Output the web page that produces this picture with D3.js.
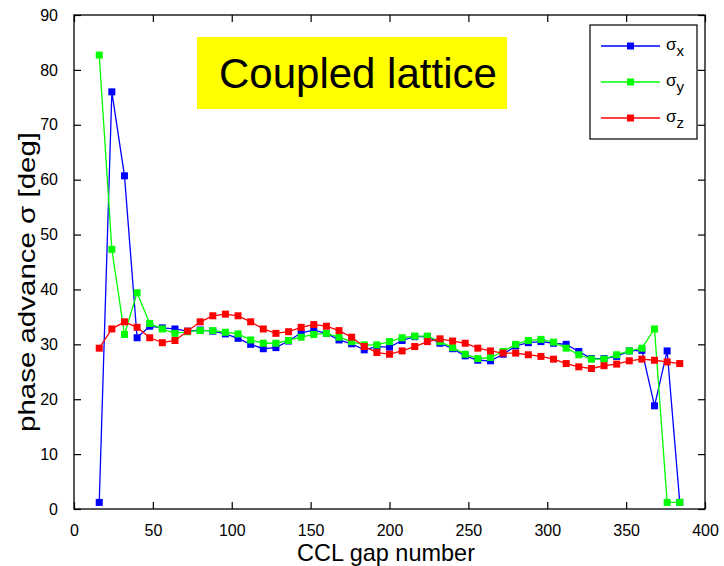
<!DOCTYPE html>
<html><head><meta charset="utf-8">
<script src="https://cdn.jsdelivr.net/npm/d3@7"></script>
<style>body{margin:0;background:#fff}svg{display:block}text{font-family:"Liberation Sans",Arial,sans-serif}</style>
</head><body>
<script>
const gaps = [16,24,32,40,48,56,64,72,80,88,96,104,112,120,128,136,144,152,160,168,176,184,192,200,208,216,224,232,240,248,256,264,272,280,288,296,304,312,320,328,336,344,352,360,368,376,384];
const sigmaX = [1.2,76.0,60.7,31.2,33.3,33.0,32.8,32.4,32.6,32.4,31.9,31.1,30.0,29.2,29.4,30.6,32.1,32.6,32.0,30.8,30.1,29.0,29.6,29.5,30.7,31.4,31.4,30.2,29.2,27.9,27.1,27.0,28.2,29.7,30.3,30.5,30.2,30.0,28.7,27.4,27.4,27.8,28.8,28.9,18.8,28.8,1.2];
const sigmaY = [82.7,47.3,31.8,39.4,33.8,32.8,32.0,32.3,32.5,32.5,32.2,31.9,30.8,30.2,30.2,30.7,31.3,31.8,32.0,31.3,30.5,29.9,29.9,30.5,31.2,31.5,31.5,30.5,29.4,28.2,27.4,27.6,28.7,30.0,30.7,30.9,30.4,29.3,28.1,27.3,27.3,28.1,28.8,29.3,32.8,1.2,1.2];
const sigmaZ = [29.3,32.8,34.1,33.1,31.2,30.3,30.7,32.4,34.1,35.2,35.5,35.2,34.1,32.8,32.0,32.3,33.1,33.6,33.3,32.5,31.3,29.6,28.5,28.2,28.8,29.6,30.5,31.0,30.6,30.2,29.3,28.8,28.4,28.4,28.1,27.8,27.3,26.5,25.9,25.6,26.1,26.4,27.0,27.3,27.1,26.8,26.5];
const xTicks = [0,50,100,150,200,250,300,350,400];
const yTicks = [0,10,20,30,40,50,60,70,80,90];
const seriesNames = ["x","y","z"];
const seriesColors = ["#0000ff","#00ff00","#ff0000"];

const W = 724, H = 566;
const m = {l:74, r:19, t:15, b:57};
const svg = d3.select("body").append("svg").attr("width",W).attr("height",H);
const x = d3.scaleLinear().domain([0,400]).range([m.l, W-m.r]);
const y = d3.scaleLinear().domain([0,90]).range([H-m.b, m.t]);
const tl = 7;

// axes (MATLAB style, inward ticks on all sides)
const gx = svg.append("g").attr("transform",`translate(0,${H-m.b})`)
  .call(d3.axisBottom(x).tickValues(xTicks).tickSize(-tl).tickPadding(tl+9).tickSizeOuter(0));
const gxt = svg.append("g").attr("transform",`translate(0,${m.t})`)
  .call(d3.axisTop(x).tickValues(xTicks).tickSize(-tl).tickFormat("").tickSizeOuter(0));
const gy = svg.append("g").attr("transform",`translate(${m.l},0)`)
  .call(d3.axisLeft(y).tickValues(yTicks).tickSize(-tl).tickPadding(tl+9).tickSizeOuter(0));
const gyr = svg.append("g").attr("transform",`translate(${W-m.r},0)`)
  .call(d3.axisRight(y).tickValues(yTicks).tickSize(-tl).tickFormat("").tickSizeOuter(0));
[gx,gxt,gy,gyr].forEach(g=>{g.select(".domain").remove();g.selectAll("line").attr("stroke","#000").attr("stroke-width",1.2);});
gx.selectAll("text").attr("font-size",16).attr("fill","#000").attr("font-family","Liberation Sans, Arial");
gy.selectAll("text").attr("font-size",16).attr("fill","#000").attr("font-family","Liberation Sans, Arial");
svg.append("rect").attr("x",x(0)).attr("y",y(90)).attr("width",x(400)-x(0)).attr("height",y(0)-y(90))
  .attr("fill","none").attr("stroke","#000").attr("stroke-width",1.3);

// title box
svg.append("rect").attr("x",197).attr("y",37).attr("width",310).attr("height",72).attr("fill","#ffff00");
svg.append("text").attr("x",219).attr("y",88).attr("font-size",42).attr("fill","#000").text("Coupled lattice");

// series
const data = [sigmaX, sigmaY, sigmaZ];
const line = d3.line().x((d,i)=>x(gaps[i])).y(d=>y(d));
data.forEach((vals,k)=>{
  const g = svg.append("g");
  g.append("path").datum(vals).attr("d",line).attr("fill","none").attr("stroke",seriesColors[k]).attr("stroke-width",1.3);
  g.selectAll("rect").data(vals).join("rect")
    .attr("x",(d,i)=>x(gaps[i])-3.5).attr("y",d=>y(d)-3.5).attr("width",7).attr("height",7)
    .attr("fill",seriesColors[k]);
});

// legend
const lg = svg.append("g");
lg.append("rect").attr("x",590).attr("y",25).attr("width",107).attr("height",114).attr("fill","#fff").attr("stroke","#000").attr("stroke-width",1.2);
seriesNames.forEach((n,k)=>{
  const yy = 46 + k*36;
  lg.append("line").attr("x1",601).attr("x2",660).attr("y1",yy).attr("y2",yy).attr("stroke",seriesColors[k]).attr("stroke-width",1.3);
  lg.append("rect").attr("x",627).attr("y",yy-3.5).attr("width",7).attr("height",7).attr("fill",seriesColors[k]);
  const t = lg.append("text").attr("x",666).attr("y",yy+4).attr("font-size",17).attr("fill","#000");
  t.append("tspan").text("σ");
  t.append("tspan").attr("dy",6).attr("font-size",15).text(n);
});

// axis labels
svg.append("text").attr("x",386).attr("y",561).attr("text-anchor","middle").attr("font-size",24).attr("fill","#000")
  .attr("textLength",178).attr("lengthAdjust","spacingAndGlyphs").text("CCL gap number");
svg.append("text").attr("transform","translate(35,282) rotate(-90)").attr("text-anchor","middle").attr("font-size",24).attr("fill","#000")
  .attr("textLength",300).attr("lengthAdjust","spacingAndGlyphs").text("phase advance σ [deg]");
</script>
</body></html>
